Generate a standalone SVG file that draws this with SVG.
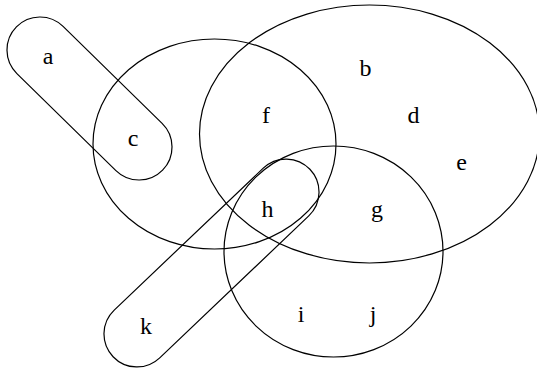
<svg xmlns="http://www.w3.org/2000/svg" width="537" height="371" viewBox="0 0 537 371">
<style>
.s{fill:none;stroke:#000;stroke-width:1.2}
.t{font-family:"Liberation Serif","Times New Roman",serif;font-size:24px;fill:#000;text-anchor:middle}
</style>
<rect width="537" height="371" fill="#fff"/>
<g id="set-left"><ellipse class="s" cx="214.5" cy="144" rx="121.5" ry="105"/></g>
<g id="set-big"><ellipse class="s" cx="369.5" cy="134" rx="170" ry="129"/></g>
<g id="set-bottom"><ellipse class="s" cx="333.5" cy="251.5" rx="109.5" ry="105.5"/></g>
<g id="set-ac"><rect class="s" x="-102.3" y="-33" width="204.6" height="66" rx="33" ry="33" transform="translate(89.5 98.5) rotate(44.4)"/></g>
<g id="set-kh"><rect class="s" x="-135.9" y="-33" width="271.8" height="66" rx="33" ry="33" transform="translate(211.5 263) rotate(-43.6)"/></g>
<g id="labels">
<g id="a"><text class="t" x="48" y="64">a</text></g>
<g id="b"><text class="t" x="365.5" y="76">b</text></g>
<g id="c"><text class="t" x="133" y="146">c</text></g>
<g id="d"><text class="t" x="413.5" y="123">d</text></g>
<g id="e"><text class="t" x="461.5" y="170">e</text></g>
<g id="f"><text class="t" x="266" y="123">f</text></g>
<g id="g"><text class="t" x="377" y="217">g</text></g>
<g id="h"><text class="t" x="267.5" y="217">h</text></g>
<g id="i"><text class="t" x="301" y="322">i</text></g>
<g id="j"><text class="t" x="373" y="322">j</text></g>
<g id="k"><text class="t" x="146" y="334">k</text></g>
</g>
</svg>
